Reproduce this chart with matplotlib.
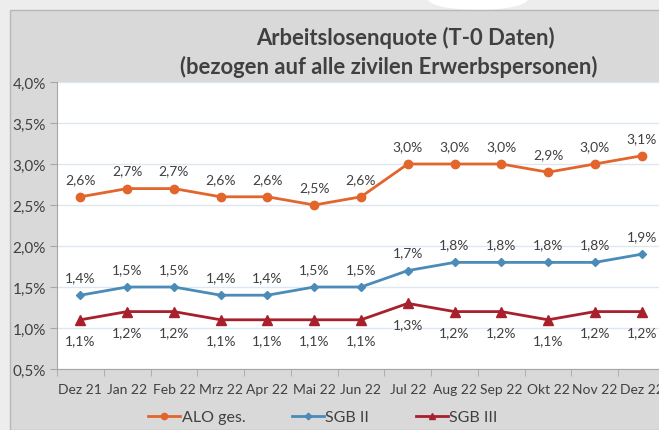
import matplotlib.pyplot as plt
from matplotlib.patches import Rectangle, Ellipse
from matplotlib.ticker import FuncFormatter, FixedLocator

# Daten
monate = ['Dez 21', 'Jan 22', 'Feb 22', 'Mrz 22', 'Apr 22', 'Mai 22', 'Jun 22',
          'Jul 22', 'Aug 22', 'Sep 22', 'Okt 22', 'Nov 22', 'Dez 22']
alo_ges = [2.6, 2.7, 2.7, 2.6, 2.6, 2.5, 2.6, 3.0, 3.0, 3.0, 2.9, 3.0, 3.1]
sgb_2 = [1.4, 1.5, 1.5, 1.4, 1.4, 1.5, 1.5, 1.7, 1.8, 1.8, 1.8, 1.8, 1.9]
sgb_3 = [1.1, 1.2, 1.2, 1.1, 1.1, 1.1, 1.1, 1.3, 1.2, 1.2, 1.1, 1.2, 1.2]

plt.rcParams['font.family'] = ['Lato', 'DejaVu Sans']
txt = '#404040'

W, H = 659, 431
fig = plt.figure(figsize=(W / 100, H / 100), dpi=100, facecolor='#ededed')

# heller Streifen oben (Screenshot-Rand)
fig.patches.append(Ellipse((478 / W, 1.0), 100 / W, 22 / H, transform=fig.transFigure,
                           facecolor='white', edgecolor='none', zorder=-6))

# grauer Diagrammhintergrund
fig.patches.append(Rectangle((10 / W, 0), 1, 1 - 11 / H, transform=fig.transFigure,
                             facecolor='#d9d9d9', edgecolor='#b8b8b8', lw=1, zorder=-5))

ax = fig.add_axes([57 / W, 1 - 370 / H, (665 - 57) / W, (370 - 83) / H])
ax.set_zorder(2)
ax.set_facecolor('white')

x = list(range(len(monate)))
ax.plot(x, alo_ges, color='#e2652b', lw=2, marker='o', ms=6, label='ALO ges.', zorder=3)
ax.plot(x, sgb_2, color='#4a8bb8', lw=2, marker='D', ms=4.5, label='SGB II', zorder=3)
ax.plot(x, sgb_3, color='#a8202c', lw=2, marker='^', ms=6.5, label='SGB III', zorder=3)

def pct(v):
    return f'{v:.1f}%'.replace('.', ',')

for i in x:
    ax.annotate(pct(alo_ges[i]), (i, alo_ges[i]), xytext=(0, 13), textcoords='offset points',
                ha='center', va='center', fontsize=10, color=txt)
    ax.annotate(pct(sgb_2[i]), (i, sgb_2[i]), xytext=(0, 13), textcoords='offset points',
                ha='center', va='center', fontsize=10, color=txt)
    ax.annotate(pct(sgb_3[i]), (i, sgb_3[i]), xytext=(0, -15), textcoords='offset points',
                ha='center', va='center', fontsize=10, color=txt)

ax.set_ylim(0.5, 4.0)
ax.set_yticks([0.5, 1.0, 1.5, 2.0, 2.5, 3.0, 3.5, 4.0])
ax.yaxis.set_major_formatter(FuncFormatter(lambda v, p: pct(v)))
ax.set_xlim(-0.5, len(monate) - 0.5)
ax.set_xticks(x)
ax.set_xticklabels(monate)
ax.xaxis.set_minor_locator(FixedLocator([i - 0.5 for i in range(len(monate) + 1)]))
ax.tick_params(axis='x', which='major', length=0, pad=10, labelsize=10, labelcolor=txt)
ax.tick_params(axis='x', which='minor', length=5, color='#a6a6a6', direction='out')
ax.tick_params(axis='y', length=5, color='#a6a6a6', labelsize=11, labelcolor=txt, pad=3)

ax.grid(axis='y', color='#dde7f1', lw=1)
ax.set_axisbelow(True)
for s in ['top', 'right']:
    ax.spines[s].set_visible(False)
ax.spines['left'].set_color('#a6a6a6')
ax.spines['bottom'].set_color('#a6a6a6')

fig.text(405 / W, 1 - 38 / H, 'Arbeitslosenquote (T-0 Daten)', ha='center', va='center',
         fontsize=15.8, fontweight='bold', color=txt)
fig.text(389 / W, 1 - 67 / H, '(bezogen auf alle zivilen Erwerbspersonen)', ha='center', va='center',
         fontsize=15.8, fontweight='bold', color=txt)

fig.legend(loc='center', bbox_to_anchor=(323 / W, 1 - 418 / H), ncol=3, frameon=False,
           fontsize=11.5, handlelength=2.0, columnspacing=2.9, handletextpad=0.1,
           markerscale=0.75, labelcolor=txt)

fig.savefig('out.png', dpi=100, facecolor=fig.get_facecolor())
